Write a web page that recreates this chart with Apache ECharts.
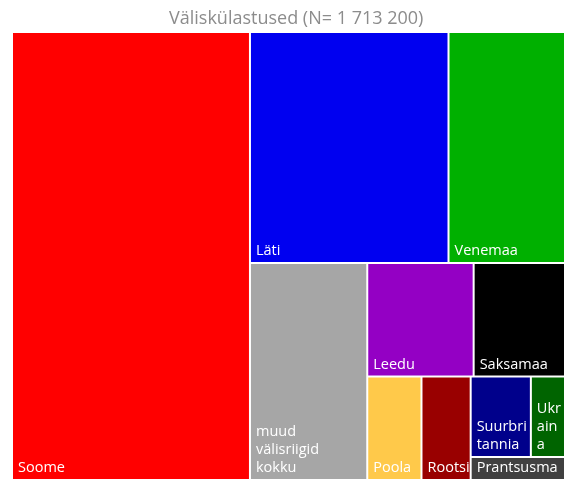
<!DOCTYPE html>
<html>
<head>
<meta charset="utf-8">
<script src="https://cdn.jsdelivr.net/npm/echarts@6/dist/echarts.min.js"></script>
<style>
  html, body { margin: 0; padding: 0; background: #fff; }
  #chart { width: 564px; height: 479px; }
</style>
</head>
<body>
<div id="chart"></div>
<script>
// Väliskülastused riikide kaupa
const countries = ['Soome', 'Läti', 'Venemaa', 'muud välisriigid kokku', 'Leedu', 'Saksamaa',
  'Poola', 'Rootsi', 'Suurbritannia', 'Ukraina', 'Prantsusmaa'];
const visits = [737000, 317000, 186000, 176000, 83500, 71700, 38800, 35200, 33500, 19000, 15000];
const colors = ['#ff0000', '#0000f0', '#00b000', '#a6a6a6', '#9400c4', '#000000',
  '#ffc94a', '#990000', '#00008b', '#006400', '#404040'];

const chart = echarts.init(document.getElementById('chart'));

function leaf(i) {
  return { name: countries[i], value: visits[i], itemStyle: { color: colors[i] } };
}

// väikseimad riigid rühmitatakse paigutuse jaoks (rühmadel endil pole silti)
const small = {
  name: '', children: [
    { name: '', children: [leaf(8), leaf(9)] },
    leaf(10)
  ]
};
const treeData = [0, 1, 2, 3, 4, 5, 6, 7].map(leaf).concat([small]);

const groupLevel = { itemStyle: { borderWidth: 0, gapWidth: 2, borderColor: '#fff' } };

chart.setOption({
  title: {
    text: 'Väliskülastused (N= 1 713 200)',
    left: 164,
    top: 5,
    textStyle: { color: '#8c8c8c', fontSize: 18, fontWeight: 'normal', fontFamily: 'Open Sans' }
  },
  series: [{
    type: 'treemap',
    left: 13,
    top: 33,
    right: 0,
    bottom: 0,
    sort: false,
    squareRatio: 1,
    roam: false,
    nodeClick: false,
    breadcrumb: { show: false },
    animation: false,
    levels: [groupLevel, groupLevel, groupLevel, groupLevel],
    label: {
      show: true,
      position: 'insideBottomLeft',
      color: '#fff',
      fontSize: 14.5,
      fontFamily: 'Open Sans',
      padding: [0, 0, 2, 5],
      overflow: 'break',
      lineOverflow: 'truncate',
      lineHeight: 18,
      formatter: '{b}'
    },
    data: treeData
  }]
});
</script>
</body>
</html>
